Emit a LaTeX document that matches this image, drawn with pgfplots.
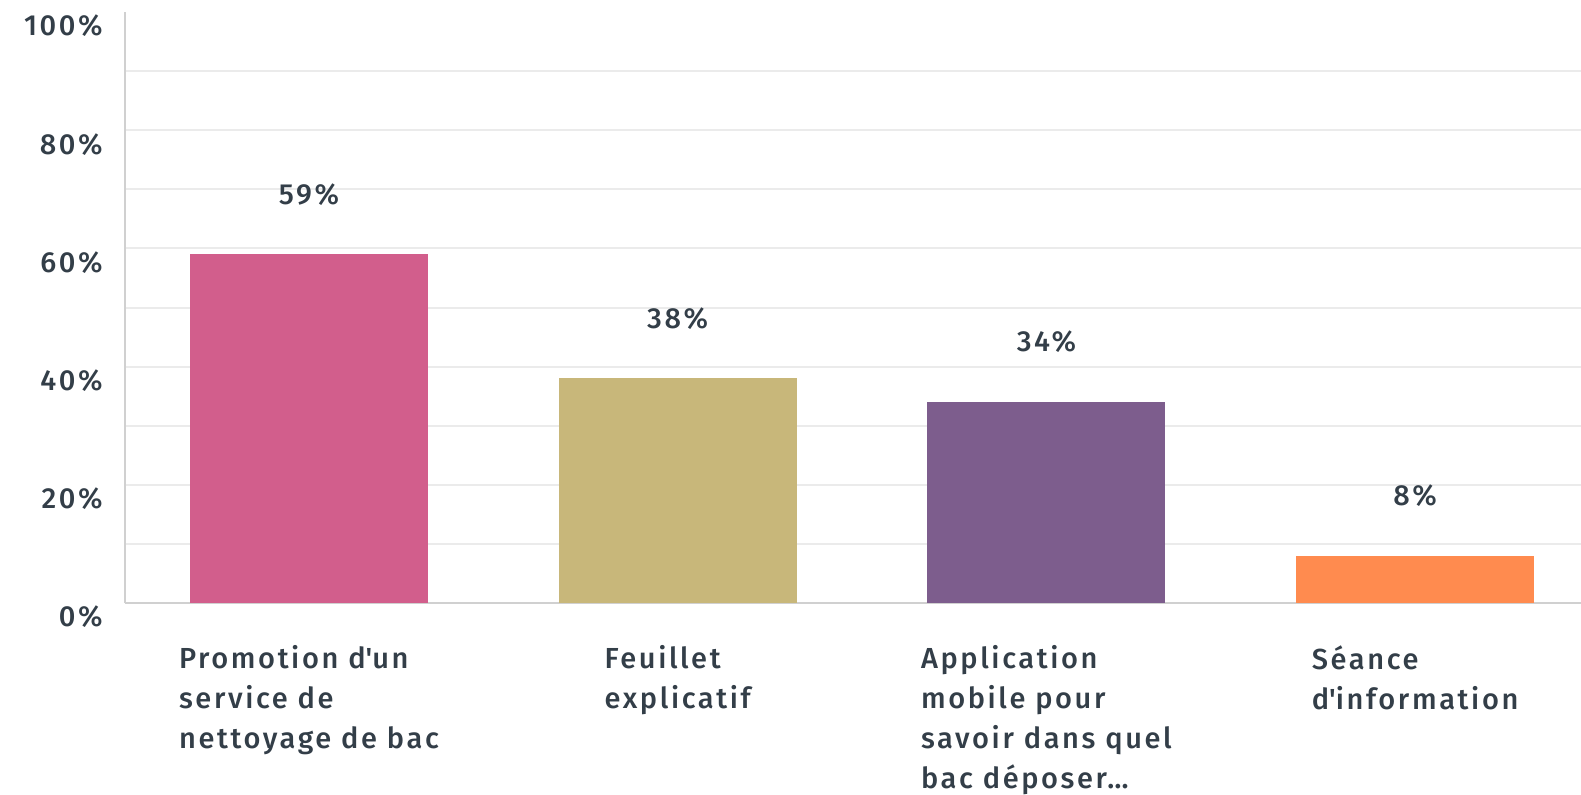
\documentclass[border=0pt]{standalone}
\usepackage{pgfplots}
\pgfplotsset{compat=1.18}
\usepackage{fontspec}
\setmainfont{Fira Sans Medium}[LetterSpace=9]
\definecolor{txt}{HTML}{333E48}
\definecolor{gridc}{HTML}{EBEBEB}
\definecolor{axc}{HTML}{D0D0D0}
\definecolor{cpink}{HTML}{D25E8C}
\definecolor{colive}{HTML}{C8B77A}
\definecolor{cpurple}{HTML}{7D5D8D}
\definecolor{corange}{HTML}{FF8B4F}
\begin{document}
\begin{tikzpicture}[x=1pt,y=1pt]
\path[use as bounding box] (0,0) rectangle (790.5,397);
\begin{axis}[
  at={(62.5pt,95.5pt)}, anchor=south west,
  scale only axis, width=728pt, height=295.5pt,
  xmin=-0.499, xmax=3.45, ymin=0, ymax=100,
  axis lines*=left,
  axis line style={draw=axc, line width=1pt, -},
  ytick={0,10,...,90},
  yticklabels={0\%,,20\%,,40\%,,60\%,,80\%,},
  extra y ticks={100}, extra y tick labels={100\%},
  extra y tick style={grid=none},
  ymajorgrids, grid style={draw=gridc, line width=1pt},
  major tick length=0pt,
  font=\fontsize{14.5}{20}\selectfont,
  every tick label/.append style={text=txt},
  yticklabel style={anchor=east, inner sep=0pt, xshift=-11pt, yshift=-7pt},
  xtick={0,1,2,3},
  xticklabels={{Promotion d\textquotesingle un\\service de\\nettoyage de bac}, {Feuillet\\explicatif}, {Application\\mobile pour\\savoir dans quel\\bac déposer\ldots}, {Séance\\d\textquotesingle information}},
  xticklabel style={align=left, anchor=north, inner sep=0pt, yshift=-21pt},
  ybar, bar width=119pt,
  every axis plot/.append style={bar shift=0pt, draw=none},
  nodes near coords={\pgfmathprintnumber{\pgfplotspointmeta}\%},
  /pgf/number format/assume math mode=true,
  every node near coord/.append style={text=txt, anchor=center, inner sep=0pt, yshift=30pt},
  clip=false,
]
\addplot[fill=cpink] coordinates {(0,59)};
\addplot[fill=colive] coordinates {(1,38)};
\addplot[fill=cpurple] coordinates {(2,34)};
\addplot[fill=corange] coordinates {(3,8)};
\end{axis}
\end{tikzpicture}
\end{document}
